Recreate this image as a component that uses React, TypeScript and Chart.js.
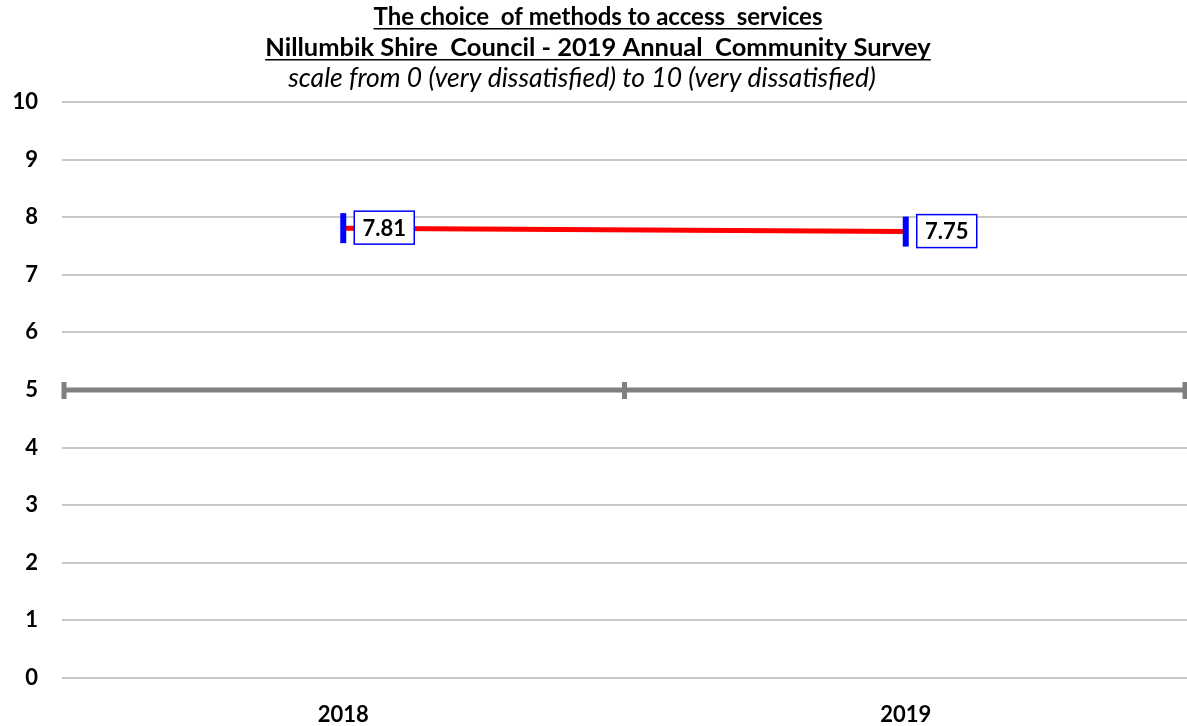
import React, { useEffect, useRef } from "react";
import { Chart, registerables } from "chart.js";

Chart.register(...registerables);

const titleLines = [
  "The choice  of methods to access  services",
  "Nillumbik Shire  Council - 2019 Annual  Community Survey",
];
const subtitle = "scale from 0 (very dissatisfied) to 10 (very dissatisfied)";
const years = ["2018", "2019"];
const scores = [7.81, 7.75];
const referenceValue = 5;
const FONT = "Lato, 'Open Sans', sans-serif";

const overlayPlugin = {
  id: "overlay",
  beforeDatasetsDraw(chart: any) {
    const { ctx, scales } = chart;
    const x = scales.x;
    const y = scales.y;
    const yy = y.getPixelForValue(referenceValue);
    ctx.save();
    ctx.strokeStyle = "#808080";
    ctx.lineWidth = 5;
    ctx.beginPath();
    ctx.moveTo(x.left, yy);
    ctx.lineTo(x.right, yy);
    ctx.stroke();
    const p0 = x.getPixelForValue(0);
    const p1 = x.getPixelForValue(1);
    const half = (p1 - p0) / 2;
    const ticks = [p0 - half, (p0 + p1) / 2, p1 + half];
    ctx.lineWidth = 5;
    ticks.forEach((tx, i) => {
      let px = tx;
      if (i === 0) px = tx + 2;
      if (i === ticks.length - 1) px = tx - 2;
      ctx.beginPath();
      ctx.moveTo(px, yy - 8);
      ctx.lineTo(px, yy + 9);
      ctx.stroke();
    });
    ctx.restore();
  },
  afterDatasetsDraw(chart: any) {
    const { ctx } = chart;
    const meta = chart.getDatasetMeta(0);
    ctx.save();
    ctx.font = `bold 22px ${FONT}`;
    ctx.textAlign = "center";
    ctx.textBaseline = "middle";
    meta.data.forEach((pt: any, i: number) => {
      const bx = pt.x + 11;
      const by = pt.y - 17;
      const bw = 60;
      const bh = 33;
      ctx.fillStyle = "#ffffff";
      ctx.fillRect(bx, by, bw, bh);
      ctx.strokeStyle = "#0000ff";
      ctx.lineWidth = 1.5;
      ctx.strokeRect(bx, by, bw, bh);
      ctx.fillStyle = "#000000";
      ctx.fillText(scores[i].toFixed(2), bx + bw / 2, by + bh / 2 + 1);
    });
    ctx.restore();
  },
  afterDraw(chart: any) {
    const { ctx } = chart;
    const cx = 598;
    ctx.save();
    ctx.textAlign = "center";
    ctx.textBaseline = "alphabetic";
    ctx.fillStyle = "#000000";
    ctx.font = `bold 24px ${FONT}`;
    ctx.fillText(titleLines[0], cx, 25);
    let w = ctx.measureText(titleLines[0]).width;
    ctx.fillRect(cx - w / 2, 28, w, 1.5);
    ctx.font = `bold 25.5px ${FONT}`;
    ctx.fillText(titleLines[1], cx, 56);
    w = ctx.measureText(titleLines[1]).width;
    ctx.fillRect(cx - w / 2, 59, w, 1.5);
    ctx.font = `italic 26.5px ${FONT}`;
    ctx.fillText(subtitle, 582, 87);
    ctx.restore();
  },
};

export default function App() {
  const ref = useRef<HTMLCanvasElement | null>(null);
  useEffect(() => {
    if (!ref.current) return;
    const chart = new Chart(ref.current, {
      type: "line",
      data: {
        labels: years,
        datasets: [
          {
            data: scores,
            borderColor: "#ff0000",
            borderWidth: 5,
            pointStyle: "line",
            pointRadius: 15,
            pointRotation: 90,
            pointBorderColor: "#0000ff",
            pointBorderWidth: 6,
            pointBackgroundColor: "#0000ff",
            tension: 0,
          },
        ],
      },
      options: {
        animation: false,
        responsive: false,
        maintainAspectRatio: false,
        layout: { padding: { top: 102, right: 1, left: 0, bottom: 0 } },
        plugins: {
          legend: { display: false },
          title: { display: false },
          tooltip: { enabled: false },
        },
        scales: {
          x: {
            offset: true,
            grid: { display: false },
            border: { display: false },
            ticks: {
              color: "#000000",
              font: { family: FONT, size: 22, weight: "bold" },
              padding: 16,
            },
            afterFit: (s: any) => {
              s.height = 48;
              s.paddingLeft = 0;
              s.paddingRight = 0;
            },
          },
          y: {
            min: 0,
            max: 10,
            ticks: {
              stepSize: 1,
              color: "#000000",
              font: { family: FONT, size: 22, weight: "bold" },
              padding: 24,
            },
            grid: { color: "#c8c8c8", lineWidth: 2, drawTicks: false },
            border: { display: false },
            afterFit: (s: any) => {
              s.width = 62;
              s.paddingTop = 0;
              s.paddingBottom = 0;
            },
          },
        },
      },
      plugins: [overlayPlugin],
    } as any);
    return () => chart.destroy();
  }, []);
  return (
    <div style={{ position: "fixed", left: 0, top: 0, width: 1187, height: 726, overflow: "hidden", background: "#fff" }}>
      <canvas ref={ref} width={1208} height={726} />
    </div>
  );
}
